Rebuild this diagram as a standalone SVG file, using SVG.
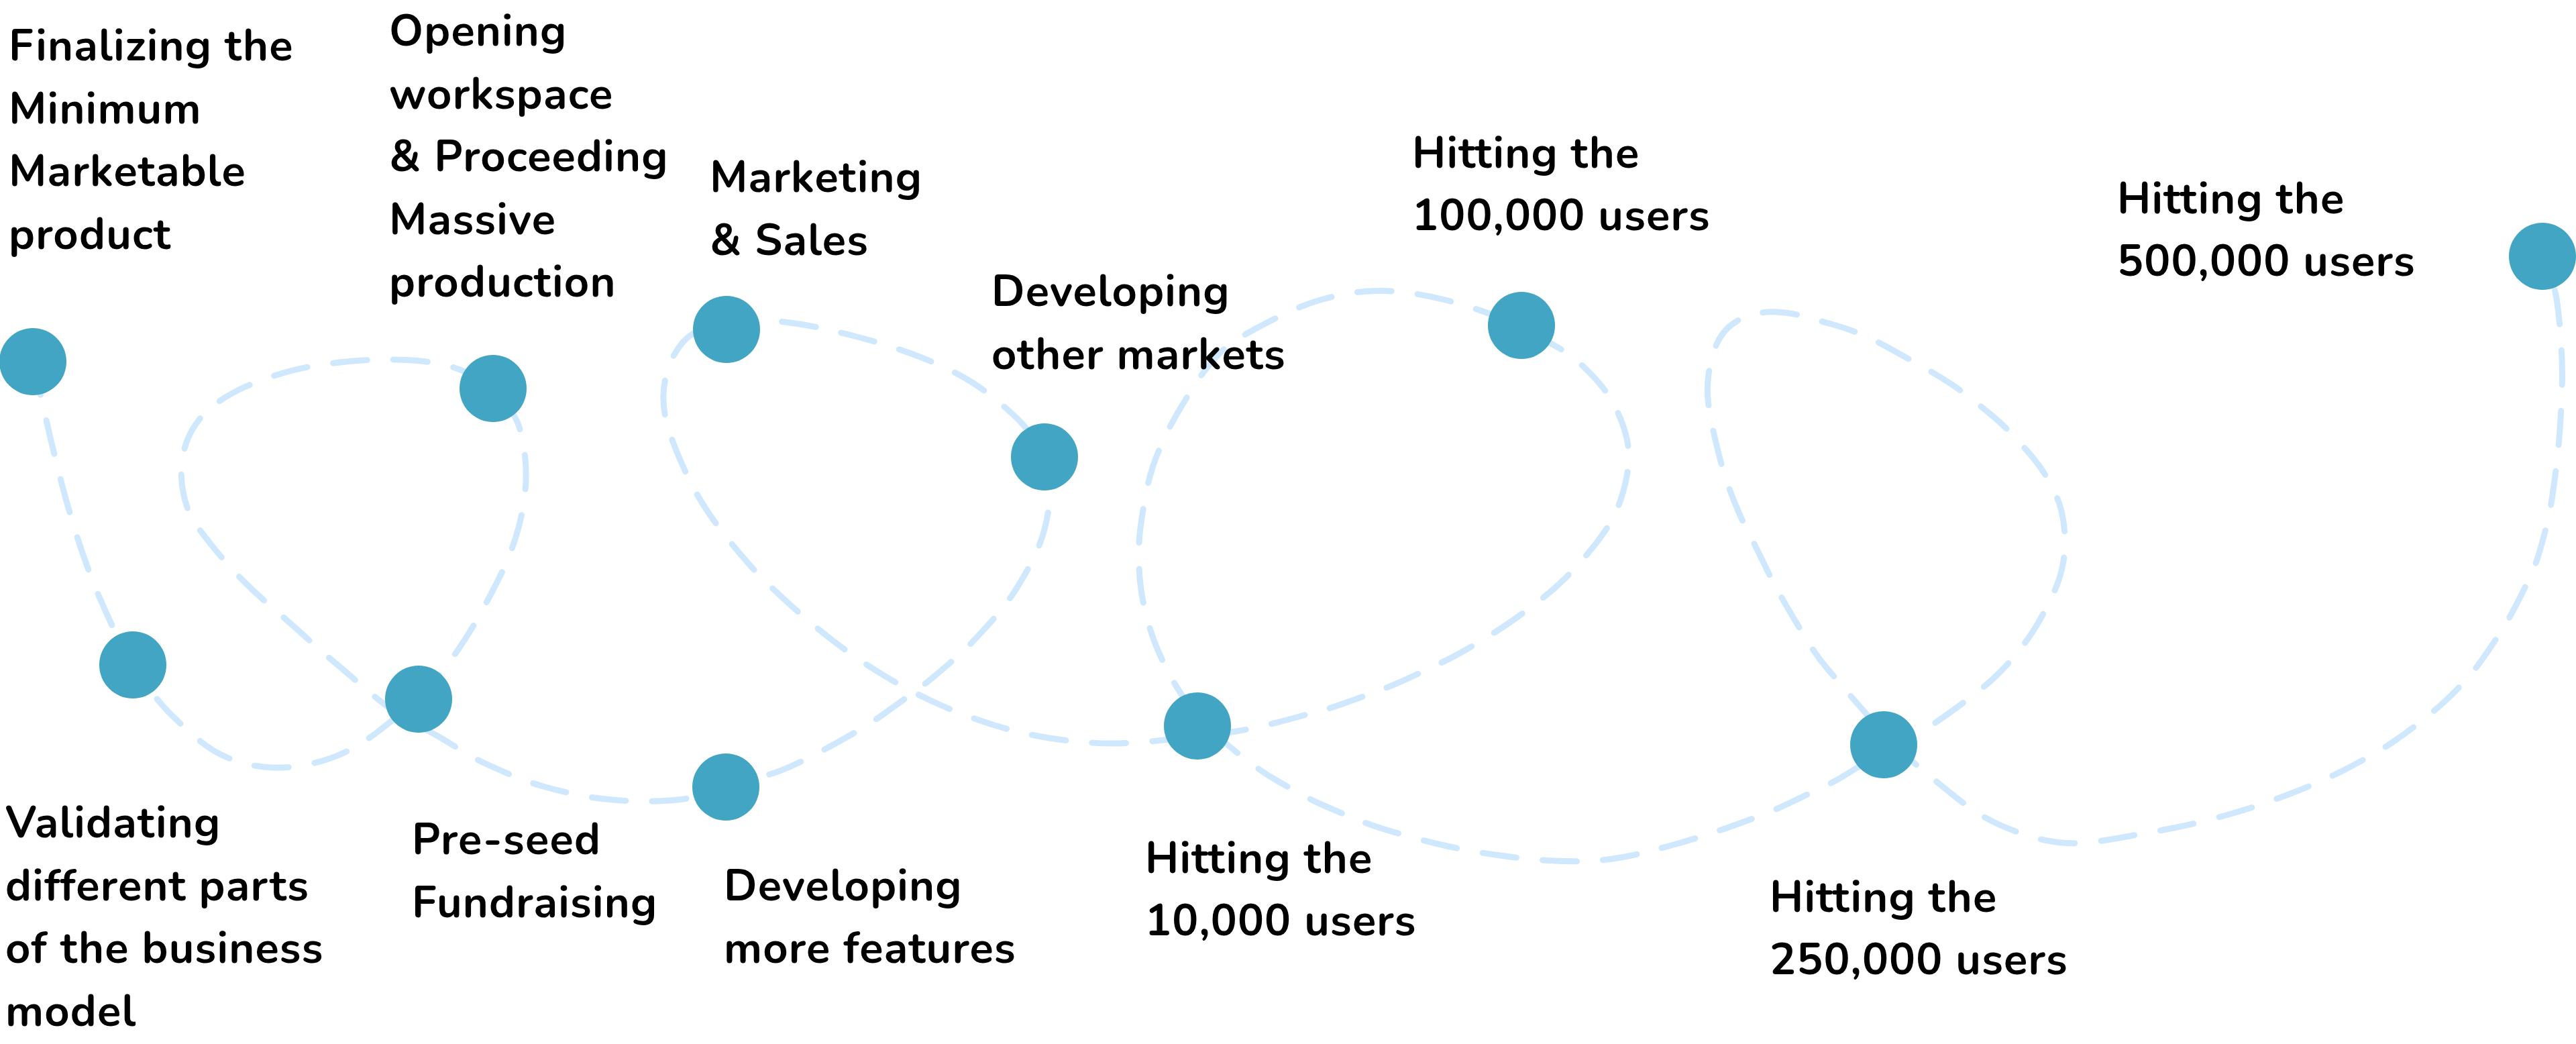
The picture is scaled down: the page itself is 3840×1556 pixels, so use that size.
<svg xmlns="http://www.w3.org/2000/svg" width="3840" height="1556" viewBox="0 0 3840 1556">
<style>
.lbl{font-family:"Nunito","Lato","Open Sans","Liberation Sans",sans-serif;font-weight:700;font-size:65px;letter-spacing:1.2px;fill:#000}
.dot{fill:#42A5C3}
.trail{fill:none;stroke:#D0E8FE;stroke-width:9;stroke-linecap:round;stroke-linejoin:round;stroke-dasharray:51 39}
</style>
<rect width="3840" height="1556" fill="#fff"/>
<g id="connectors">
<path class="trail" d="M49,539 L55.5,567 Q62,595 72,639 Q82,683 93.5,726.5 Q105,770 119,812.5 Q133,855 150.5,895.5 Q168,936 183,963.5 Q198,991 216.5,1018 Q235,1045 254,1064 Q273,1083 296,1102.5 Q319,1122 347.5,1132.5 Q376,1143 406,1144 Q436,1145 465.5,1138 Q495,1131 517.5,1119.5 Q540,1108 560,1093 Q580,1078 602,1059 Q624,1040 645,1016.5 Q666,993 683.5,967.5 Q701,942 718,911 Q735,880 747.5,854.5 Q760,829 769.5,798.5 Q779,768 782.5,736 Q786,704 782,674.5 Q778,645 771,628.5 Q764,612 749.5,595.5 Q735,579 714.5,565.5 Q694,552 667,545 Q640,538 606,536.5 Q572,535 541,537 Q510,539 479.5,543.5 Q449,548 420,556.5 Q391,565 365.5,576.5 Q340,588 320,603 Q300,618 287.5,639 Q275,660 271.5,686 Q268,712 274,738.5 Q280,765 292.5,782.5 Q305,800 323.5,822.5 Q342,845 363.5,866.5 Q385,888 408,907.5 Q431,927 454,948 Q477,969 498.5,987 Q520,1005 540,1022.5 Q560,1040 580,1055 Q600,1070 625.5,1082.5 Q651,1095 676.5,1111.5 Q702,1128 723.5,1138 Q745,1148 765.5,1156.5 Q786,1165 808,1171.5 Q830,1178 853,1183 Q876,1188 898,1190.5 Q920,1193 943.5,1194 Q967,1195 999,1193 Q1031,1191 1056.5,1182.5 Q1082,1174 1106,1167 Q1130,1160 1151,1153 Q1172,1146 1198,1133 Q1224,1120 1243,1109.5 Q1262,1099 1281.5,1087.5 Q1301,1076 1319,1063 Q1337,1050 1354.5,1037.5 Q1372,1025 1388.5,1011.5 Q1405,998 1422.5,982.5 Q1440,967 1455,951 Q1470,935 1484.5,918.5 Q1499,902 1510.5,884.5 Q1522,867 1533.5,846 Q1545,825 1552,805 Q1559,785 1562.5,762.5 Q1566,740 1565,722.5 Q1564,705 1557,685 Q1550,665 1537,647.5 Q1524,630 1507,615 Q1490,600 1473.5,587 Q1457,574 1438.5,563.5 Q1420,553 1399,543.5 Q1378,534 1357,526.5 Q1336,519 1315,512.5 Q1294,506 1272,500.5 Q1250,495 1228.5,490 Q1207,485 1178,481 Q1149,477 1117,477.5 Q1085,478 1058,486.5 Q1031,495 1018,510 Q1005,525 997.5,545 Q990,565 989,587.5 Q988,610 995,634 Q1002,658 1013.5,684.5 Q1025,711 1035,729.5 Q1045,748 1058,767 Q1071,786 1085.5,804 Q1100,822 1114,838 Q1128,854 1144,869.5 Q1160,885 1177,900.5 Q1194,916 1212,931 Q1230,946 1246.5,958.5 Q1263,971 1281.5,983.5 Q1300,996 1319,1007.5 Q1338,1019 1358,1029.5 Q1378,1040 1398,1049 Q1418,1058 1439,1066 Q1460,1074 1481,1080.5 Q1502,1087 1523.5,1092 Q1545,1097 1567.5,1100.5 Q1590,1104 1612.5,1106 Q1635,1108 1657,1108 Q1679,1108 1709,1105.5 Q1739,1103 1763,1099.5 Q1787,1096 1811,1094 Q1835,1092 1864,1086 Q1893,1080 1922,1072 Q1951,1064 1966.5,1060 Q1982,1056 2010,1046 Q2038,1036 2059,1028 Q2080,1020 2101.5,1010 Q2123,1000 2144,990 Q2165,980 2185,968.5 Q2205,957 2225,944.5 Q2245,932 2263,919 Q2281,906 2299.5,891.5 Q2318,877 2333,862 Q2348,847 2364,828.5 Q2380,810 2392.5,791.5 Q2405,773 2412.5,754 Q2420,735 2424.5,712.5 Q2429,690 2427.5,670 Q2426,650 2416,625 Q2406,600 2393,582.5 Q2380,565 2361,547 Q2342,529 2321,517 Q2300,505 2282.5,496 Q2265,487 2244,477.5 Q2223,468 2198.5,460 Q2174,452 2152,446.5 Q2130,441 2107.5,437.5 Q2085,434 2062.5,433.5 Q2040,433 2016.5,436.5 Q1993,440 1971.5,446 Q1950,452 1928,462 Q1906,472 1885.5,482.5 Q1865,493 1845.5,505 Q1826,517 1810.5,534.5 Q1795,552 1781.5,573 Q1768,594 1756.5,613.5 Q1745,633 1735,654.5 Q1725,676 1718.5,695.5 Q1712,715 1707.5,739.5 Q1703,764 1700,787 Q1697,810 1697.5,834 Q1698,858 1701,879 Q1704,900 1710.5,924 Q1717,948 1726,969 Q1735,990 1746,1010 Q1757,1030 1773.5,1052.5 Q1790,1075 1812.5,1095 Q1835,1115 1858.5,1133 Q1882,1151 1901,1162 Q1920,1173 1939,1183.5 Q1958,1194 1979,1203 Q2000,1212 2019,1220 Q2038,1228 2059,1234.5 Q2080,1241 2101.5,1247 Q2123,1253 2144,1258 Q2165,1263 2186.5,1267 Q2208,1271 2229,1274 Q2250,1277 2272.5,1279.5 Q2295,1282 2317.5,1283 Q2340,1284 2362,1283.5 Q2384,1283 2407,1279.5 Q2430,1276 2451.5,1270.5 Q2473,1265 2496.5,1258.5 Q2520,1252 2541.5,1245 Q2563,1238 2584,1230.5 Q2605,1223 2627,1214.5 Q2649,1206 2669.5,1196 Q2690,1186 2712.5,1175.5 Q2735,1165 2752.5,1154 Q2770,1143 2789,1131.5 Q2808,1120 2831.5,1108.5 Q2855,1097 2874,1084.5 Q2893,1072 2911.5,1058.5 Q2930,1045 2948,1031 Q2966,1017 2980.5,1002.5 Q2995,988 3011,968 Q3027,948 3038.5,928 Q3050,908 3060.5,885.5 Q3071,863 3075,841.5 Q3079,820 3078,798 Q3077,776 3072,758 Q3067,740 3056,720 Q3045,700 3032,684 Q3019,668 3002,650 Q2985,632 2968,618 Q2951,604 2933,590 Q2915,576 2895.5,564 Q2876,552 2856,541 Q2836,530 2816.5,519 Q2797,508 2776,499 Q2755,490 2733.5,484 Q2712,478 2691,472 Q2670,466 2648,465 Q2626,464 2608,470 Q2590,476 2577.5,487 Q2565,498 2557.5,516.5 Q2550,535 2547,557.5 Q2544,580 2546.5,600 Q2549,620 2553,638 Q2557,656 2562.5,678 Q2568,700 2575.5,721.5 Q2583,743 2591.5,762.5 Q2600,782 2610,801 Q2620,820 2630,841 Q2640,862 2650.5,881 Q2661,900 2673,920 Q2685,940 2697,959.5 Q2709,979 2723.5,996 Q2738,1013 2752.5,1030 Q2767,1047 2787.5,1070 Q2808,1093 2829,1114 Q2850,1135 2871.5,1152.5 Q2893,1170 2911.5,1185 Q2930,1200 2947,1211 Q2964,1222 2984.5,1231 Q3005,1240 3026,1246.5 Q3047,1253 3068.5,1255.5 Q3090,1258 3113.5,1255.5 Q3137,1253 3158.5,1249 Q3180,1245 3202.5,1241 Q3225,1237 3245,1233 Q3265,1229 3286.5,1223.5 Q3308,1218 3329,1212 Q3350,1206 3371.5,1198.5 Q3393,1191 3414,1183 Q3435,1175 3455.5,1166 Q3476,1157 3495.5,1147 Q3515,1137 3534.5,1126 Q3554,1115 3572,1102.5 Q3590,1090 3608,1076 Q3626,1062 3642,1047.5 Q3658,1033 3673,1016.5 Q3688,1000 3700,983 Q3712,966 3724.5,947 Q3737,928 3747.5,908 Q3758,888 3768,867.5 Q3778,847 3784,827.5 Q3790,808 3795.5,786 Q3801,764 3804.5,741 Q3808,718 3811,693 Q3814,668 3816,639 Q3818,610 3819,585.5 Q3820,561 3819,535.5 Q3818,510 3816,487.5 Q3814,465 3811,445 Q3808,425 3790,382"/>
</g>
<g id="node-mmp"><circle class="dot" cx="49" cy="539" r="50"/><text class="lbl" x="13"><tspan x="13" y="90">Finalizing the</tspan><tspan x="13" y="183.5">Minimum</tspan><tspan x="13" y="277">Marketable</tspan><tspan x="13" y="370.5">product</tspan></text></g>
<g id="node-validating"><circle class="dot" cx="198" cy="991" r="50"/><text class="lbl"><tspan x="8" y="1248">Validating</tspan><tspan x="8" y="1342">different parts</tspan><tspan x="8" y="1435">of the business</tspan><tspan x="8" y="1529">model</tspan></text></g>
<g id="node-preseed"><circle class="dot" cx="624" cy="1042" r="50"/><text class="lbl"><tspan x="614" y="1273">Pre-seed</tspan><tspan x="614" y="1367">Fundraising</tspan></text></g>
<g id="node-workspace"><circle class="dot" cx="735" cy="579" r="50"/><text class="lbl"><tspan x="580" y="68">Opening</tspan><tspan x="580" y="161.5">workspace</tspan><tspan x="580" y="255">&amp; Proceeding</tspan><tspan x="580" y="348.5">Massive</tspan><tspan x="580" y="442">production</tspan></text></g>
<g id="node-features"><circle class="dot" cx="1082" cy="1173" r="50"/><text class="lbl"><tspan x="1079" y="1342">Developing</tspan><tspan x="1079" y="1435">more features</tspan></text></g>
<g id="node-markets"><circle class="dot" cx="1557" cy="681" r="50"/><text class="lbl"><tspan x="1478" y="456">Developing</tspan><tspan x="1478" y="550">other markets</tspan></text></g>
<g id="node-marketing"><circle class="dot" cx="1083" cy="491" r="50"/><text class="lbl"><tspan x="1058" y="286">Marketing</tspan><tspan x="1058" y="380">&amp; Sales</tspan></text></g>
<g id="node-10k"><circle class="dot" cx="1785" cy="1082" r="50"/><text class="lbl"><tspan x="1707" y="1301">Hitting the</tspan><tspan x="1707" y="1394">10,000 users</tspan></text></g>
<g id="node-100k"><circle class="dot" cx="2268" cy="485" r="50"/><text class="lbl"><tspan x="2105" y="250">Hitting the</tspan><tspan x="2105" y="343">100,000 users</tspan></text></g>
<g id="node-250k"><circle class="dot" cx="2808" cy="1110" r="50"/><text class="lbl"><tspan x="2638" y="1359">Hitting the</tspan><tspan x="2638" y="1452">250,000 users</tspan></text></g>
<g id="node-500k"><circle class="dot" cx="3790" cy="382" r="50"/><text class="lbl"><tspan x="3156" y="318">Hitting the</tspan><tspan x="3156" y="411">500,000 users</tspan></text></g>
</svg>
